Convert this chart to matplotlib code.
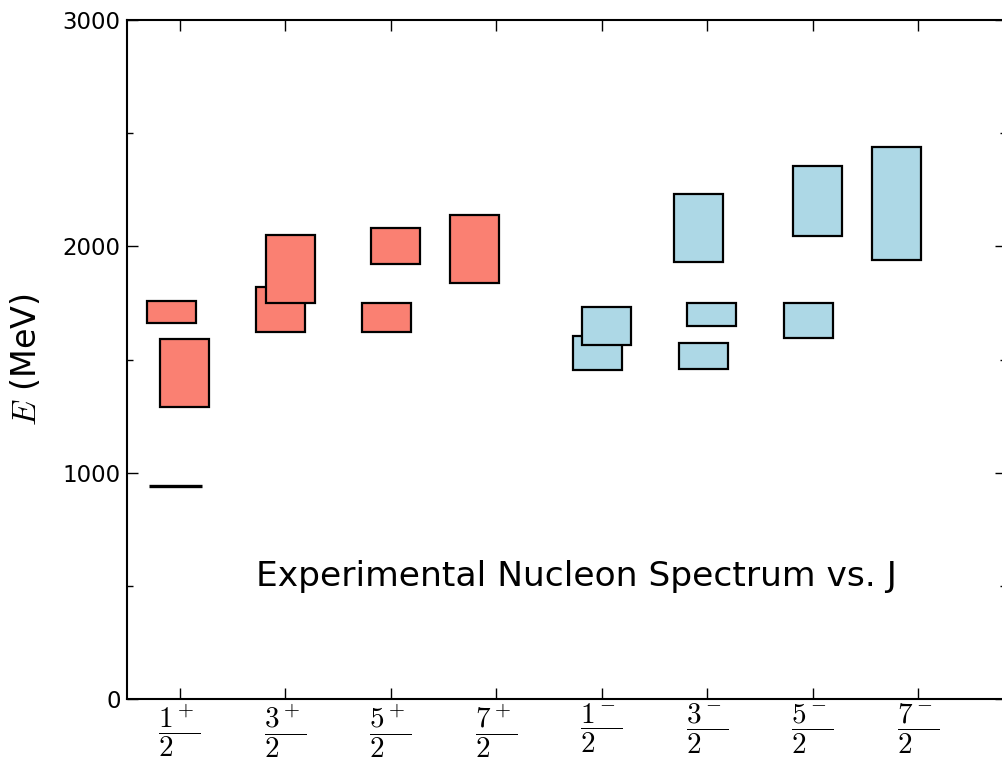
import numpy as np
import matplotlib
matplotlib.use('Agg')
import matplotlib.pyplot as plt

plt.rcParams['mathtext.fontset'] = 'cm'

# J^P labels along x
j_labels = [r'$\dfrac{1^+}{2\quad}$', r'$\dfrac{3^+}{2\quad}$', r'$\dfrac{5^+}{2\quad}$', r'$\dfrac{7^+}{2\quad}$',
            r'$\dfrac{1^-}{2\quad}$', r'$\dfrac{3^-}{2\quad}$', r'$\dfrac{5^-}{2\quad}$', r'$\dfrac{7^-}{2\quad}$']
j_pos = [1, 2, 3, 4, 5, 6, 7, 8]

# resonance bands (MeV): low, high, left edge of box
pos_lo = [1660, 1290, 1620, 1750, 1620, 1920, 1840]
pos_hi = [1760, 1590, 1820, 2050, 1750, 2080, 2140]
pos_x = [0.685, 0.81, 1.725, 1.815, 2.725, 2.81, 3.56]

neg_lo = [1455, 1565, 1460, 1650, 1930, 1595, 2045, 1940]
neg_hi = [1605, 1730, 1575, 1750, 2230, 1750, 2355, 2440]
neg_x = [4.73, 4.81, 5.73, 5.81, 5.685, 6.73, 6.81, 7.56]

nucleon_mass = 939
nucleon_x = (0.71, 1.21)

box_w = 0.465

fig = plt.figure(figsize=(10.03, 7.65), dpi=100)
ax = fig.add_axes([127 / 1003, 66 / 765, (1006 - 127) / 1003, (699 - 20) / 765])

for lo, hi, x in zip(pos_lo, pos_hi, pos_x):
    ax.bar(x, hi - lo, box_w, bottom=lo, align='edge', color='salmon', edgecolor='black', linewidth=1.6)
for lo, hi, x in zip(neg_lo, neg_hi, neg_x):
    ax.bar(x, hi - lo, box_w, bottom=lo, align='edge', color='lightblue', edgecolor='black', linewidth=1.6)

ax.hlines(nucleon_mass, nucleon_x[0], nucleon_x[1], color='black', linewidth=2.4)

ax.text(1.72, 500, 'Experimental Nucleon Spectrum vs. J', fontsize=24.8, ha='left', va='baseline')

ax.set_xlim(0.5, 1 + (1006 - 180.3) / 105.4)
ax.set_ylim(0, 3000)
ax.set_xticks(j_pos)
ax.set_xticklabels(j_labels, fontsize=21)
ax.set_yticks([0, 1000, 2000, 3000])
ax.set_yticks([500, 1500, 2500], minor=True)
ax.tick_params(axis='y', labelsize=16.5)
ax.tick_params(which='both', direction='in', top=True, right=True, width=1)
ax.tick_params(which='major', length=8, pad=4.5)
ax.tick_params(which='minor', length=4)
ax.tick_params(axis='x', pad=2)
for s in ax.spines.values():
    s.set_linewidth(1.5)

ax.set_ylabel(r'$E$ (MeV)', fontsize=24, labelpad=14)

fig.savefig('out.png', dpi=100)
